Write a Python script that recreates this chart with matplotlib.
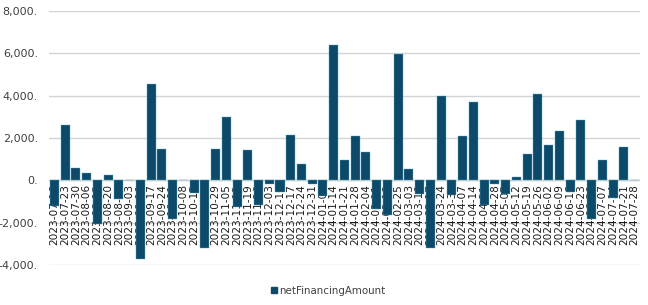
import matplotlib
matplotlib.use("Agg")
import matplotlib.pyplot as plt
from matplotlib.lines import Line2D
import numpy as np
import pandas as pd

# weekly dates, 2023-07-16 .. 2024-07-28
dates = pd.date_range("2023-07-16", "2024-07-28", freq="7D").strftime("%Y-%m-%d").tolist()

net_financing = [
    -1230, 2600, 600, 350, -2050, 270, -870, 0, -3700, 4570,
    1460, -1810, 0, -600, -3200, 1460, 2990, -1260, 1450, -1180,
    -170, -570, 2140, 790, -190, -740, 6380, 945, 2110, 1320,
    -1370, -1650, 5950, 520, -630, -3200, 3970, -710, 2080, 3690,
    -1180, -160, -630, 140, 1260, 4060, 1650, 2310, -550, 2830,
    -1810, 945, -830, 1590, 0,
]
series_name = "netFinancingAmount"
yticks = [-4000, -2000, 0, 2000, 4000, 6000, 8000]

bar_color = "#0d4a69"

fig = plt.figure(figsize=(6.48, 3.05), dpi=100)
ax = fig.add_axes([0.0756, 0.131, 0.912, 0.833])

x = np.arange(len(dates))
ax.bar(x, net_financing, width=0.84, color=bar_color, edgecolor="#5aa9c9",
       linewidth=0.3, zorder=3)

ax.set_xlim(-0.5, len(dates) - 0.5)
ax.set_ylim(yticks[0], yticks[-1])
ax.set_yticks(yticks)
ax.set_yticklabels(["{:,.0f}.".format(v) for v in yticks], fontsize=8, color="#404040")
ax.tick_params(axis="y", length=0, pad=8)
ax.set_xticks([])
ax.grid(axis="y", color="#d4d4d4", linewidth=1, zorder=0)
ax.axhline(0, color="#c8c8c8", linewidth=1, zorder=1)
for s in ax.spines.values():
    s.set_visible(False)

# date labels hang from the zero line, underneath the bars
for xi, d in zip(x, dates):
    ax.annotate(d, (xi, 0), xytext=(0, -2.5), textcoords="offset points",
                rotation=90, ha="center", va="top", fontsize=7.6,
                color="#1a1a1a", zorder=2, annotation_clip=False)

handle = Line2D([], [], marker="s", linestyle="none", color=bar_color, markersize=4.5)
fig.legend([handle], [series_name], loc="center", bbox_to_anchor=(0.505, 0.046),
           frameon=False, fontsize=7.4, handletextpad=0.1, handlelength=0.8,
           labelcolor="#404040")

fig.savefig("out.png", dpi=100)
